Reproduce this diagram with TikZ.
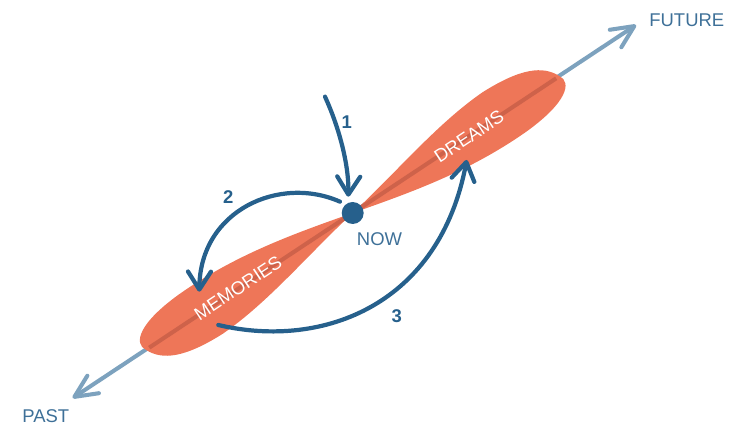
\documentclass[tikz,border=0pt]{standalone}
\usepackage{fontspec}
\setmainfont{Liberation Sans}
\usetikzlibrary{arrows.meta}
\definecolor{lobecol}{RGB}{238,118,88}
\definecolor{lobeline}{RGB}{206,98,74}
\definecolor{axiscol}{RGB}{125,162,190}
\definecolor{darkblue}{RGB}{38,96,140}
\definecolor{labelblue}{RGB}{62,112,152}
\begin{document}
\begin{tikzpicture}[x=0.02cm,y=0.02cm,
    lbl/.style={inner sep=0pt,font=\fontsize{10.5}{12}\selectfont},
    timetext/.style={lbl,text=labelblue},
    lobetext/.style={lbl,text=white,rotate=33.5},
    steptext/.style={lbl,text=darkblue,font=\fontsize{10.5}{12}\selectfont\bfseries},
    hop/.style={darkblue,line width=2.4pt,line cap=round,
        -{Straight Barb[round,length=0.36cm,width=0.46cm]}}]
    \useasboundingbox (0,0) rectangle (735,425);
    \coordinate (now) at (352.7,212);
    \coordinate (pastend) at (72.7,27);
    \coordinate (futureend) at (636,400);
    % time axis
    \draw[axiscol,line width=2.3pt,line cap=round,
        {Straight Barb[round,length=0.45cm,width=0.42cm]}-{Straight Barb[round,length=0.45cm,width=0.42cm]}]
        (pastend) -- (futureend);
    % the two lobes, one each side of now
    \foreach \ang in {33.5,213.5} {
        \fill[lobecol,shift={(now)},rotate=\ang] (0,0)
            .. controls (60,-15) and (120,-30) .. (190,-28)
            .. controls (240,-26) and (255,-12) .. (248,0)
            .. controls (240,18) and (220,28) .. (175,29)
            .. controls (120,28) and (60,10) .. (0,0) -- cycle;
        \draw[lobeline,line width=2.3pt,shift={(now)},rotate=\ang] (0,0) -- (244,0);
    }
    \node[circle,fill=darkblue,inner sep=0pt,minimum size=0.44cm] (nowdot) at (now) {};
    \node[timetext] (future) at (686.8,404.7) {FUTURE};
    \node[timetext] (past) at (45.8,9.2) {PAST};
    \node[timetext] (nowlabel) at (379.5,186) {NOW};
    \node[lobetext] (memories) at (238,137) {MEMORIES};
    \node[lobetext] (dreams) at (469,288.5) {DREAMS};
    % the three hops
    \coordinate (from1) at (325,328.3);
    \coordinate (to1) at (348.3,228.3);
    \coordinate (from2) at (340,223.3);
    \coordinate (to2) at (199.3,133.3);
    \coordinate (from3) at (218.3,100);
    \coordinate (to3) at (466.7,265);
    \draw[hop] (from1) .. controls (338,300) and (349,262) .. (to1);
    \draw[hop] (from2) .. controls (280,250) and (200,215) .. (to2);
    \draw[hop] (from3) .. controls (325,75) and (440,122) .. (to3);
    \node[steptext] (one) at (346.7,303.3) {1};
    \node[steptext] (two) at (228.3,228.3) {2};
    \node[steptext] (three) at (396.7,109) {3};
\end{tikzpicture}
\end{document}
